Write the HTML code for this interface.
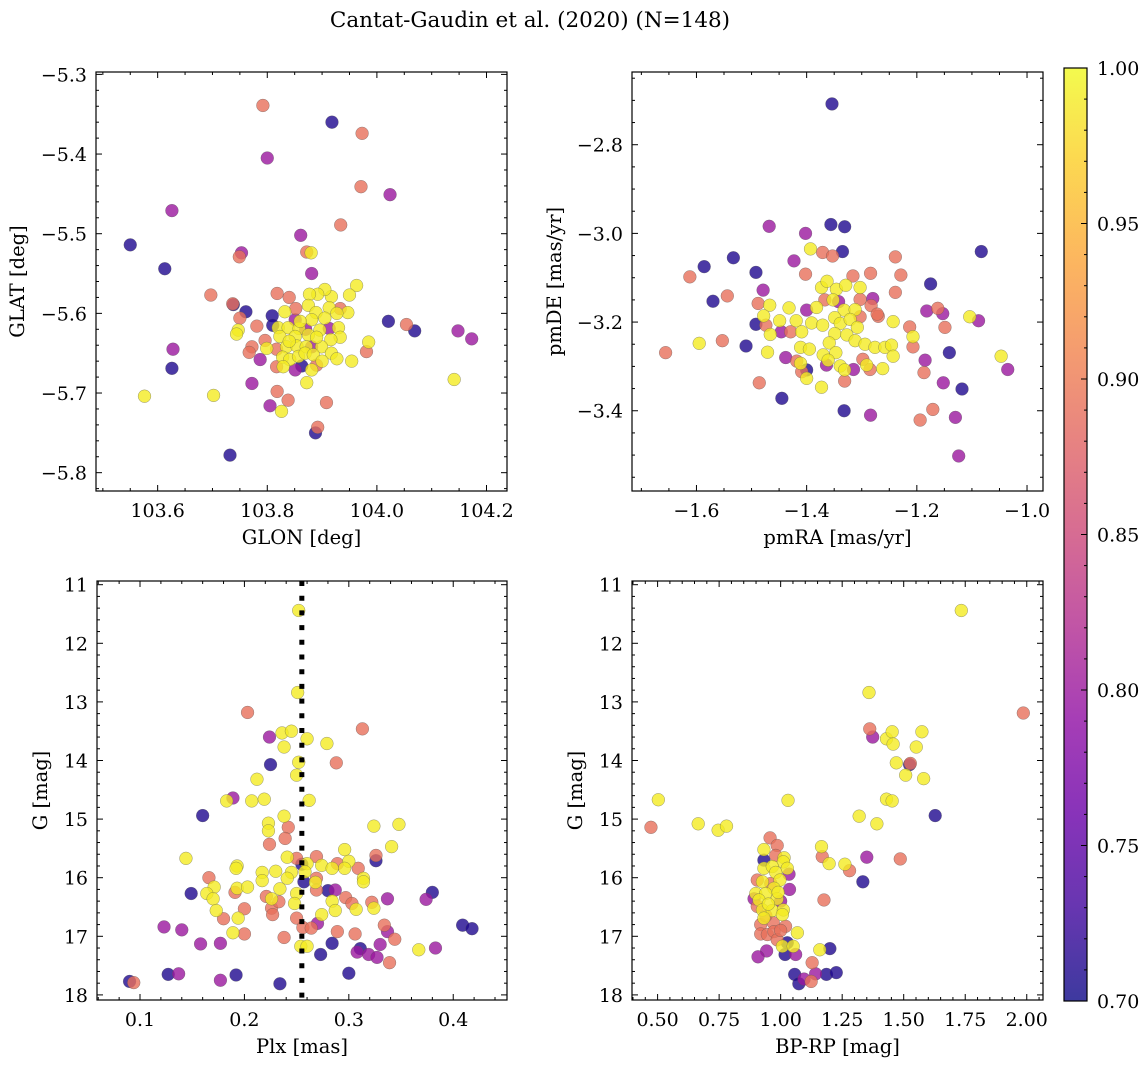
<!DOCTYPE html>
<html><head><meta charset="utf-8"><style>
html,body{margin:0;padding:0;background:#fff;}
svg{display:block;font-family:"DejaVu Serif","Liberation Serif",serif;}
</style></head><body>
<svg id="fig" width="1148" height="1068" viewBox="0 0 1148 1068" xmlns="http://www.w3.org/2000/svg">
<defs>
<linearGradient id="plasmaGrad" x1="0" y1="1" x2="0" y2="0">
<stop offset="0" stop-color="#0d0887"/><stop offset="0.1" stop-color="#41049d"/><stop offset="0.2" stop-color="#6a00a8"/><stop offset="0.3" stop-color="#8f0da4"/><stop offset="0.4" stop-color="#b12a90"/><stop offset="0.5" stop-color="#cc4778"/><stop offset="0.6" stop-color="#e16462"/><stop offset="0.7" stop-color="#f2844b"/><stop offset="0.8" stop-color="#fca636"/><stop offset="0.9" stop-color="#fcce25"/><stop offset="1" stop-color="#f0f921"/>
</linearGradient>
</defs>
<text x="530" y="27" font-size="21.5" text-anchor="middle">Cantat-Gaudin et al. (2020) (N=148)</text>
</svg>
<script>
// ---------- Panel 1: GLON vs GLAT ----------
const glon = [103.934,103.861,103.753,103.749,103.872,103.880,103.881,103.697,103.737,103.738,103.761,103.750,103.747,103.744,103.781,103.809,103.810,103.818,103.840,103.852,103.796,103.799,103.772,103.767,103.787,103.817,103.772,103.818,103.838,103.805,103.826,103.702,103.908,103.981,103.985,103.954,104.021,103.963,103.950,103.917,103.905,103.892,103.877,103.875,103.913,103.933,103.947,103.927,103.832,103.851,103.889,103.905,103.820,103.838,103.858,103.881,103.896,103.913,103.930,103.823,103.851,103.875,103.933,103.916,103.835,103.854,103.881,103.871,103.899,103.828,103.841,103.857,103.869,103.884,103.917,103.927,103.817,103.829,103.851,103.863,103.881,103.890,103.872,103.792,103.918,103.973,103.800,103.971,104.024,103.626,103.550,103.613,104.069,104.148,104.173,104.141,103.628,103.626,103.576,103.732,103.888,103.892,104.054,103.860,103.890,103.840,103.900,103.870];
const glat = [-5.489,-5.502,-5.524,-5.529,-5.523,-5.524,-5.550,-5.577,-5.588,-5.589,-5.598,-5.606,-5.621,-5.626,-5.616,-5.603,-5.615,-5.575,-5.580,-5.594,-5.634,-5.644,-5.642,-5.649,-5.658,-5.645,-5.688,-5.698,-5.709,-5.716,-5.723,-5.703,-5.712,-5.648,-5.636,-5.660,-5.610,-5.565,-5.577,-5.579,-5.570,-5.576,-5.576,-5.590,-5.593,-5.594,-5.599,-5.600,-5.598,-5.608,-5.599,-5.606,-5.618,-5.618,-5.619,-5.608,-5.621,-5.619,-5.618,-5.629,-5.629,-5.627,-5.630,-5.633,-5.642,-5.641,-5.642,-5.642,-5.642,-5.655,-5.658,-5.654,-5.650,-5.652,-5.650,-5.657,-5.667,-5.667,-5.671,-5.666,-5.671,-5.665,-5.687,-5.339,-5.360,-5.374,-5.405,-5.441,-5.451,-5.471,-5.514,-5.544,-5.622,-5.622,-5.632,-5.683,-5.645,-5.669,-5.704,-5.778,-5.750,-5.743,-5.614,-5.610,-5.630,-5.635,-5.660,-5.620];
const prob1 = [0.89,0.80,0.80,0.89,0.89,0.99,0.80,0.89,0.89,0.71,0.71,0.89,0.99,0.99,0.89,0.71,0.71,0.89,0.89,0.89,0.89,0.99,0.89,0.89,0.80,0.89,0.80,0.89,0.89,0.80,0.99,0.99,0.89,0.89,0.99,0.99,0.71,0.99,0.99,0.99,0.99,0.99,0.99,0.99,0.99,0.89,0.99,0.99,0.99,0.80,0.99,0.99,0.99,0.99,0.99,0.99,0.99,0.80,0.99,0.99,0.99,0.99,0.99,0.99,0.99,0.99,0.80,0.99,0.99,0.99,0.99,0.99,0.99,0.99,0.99,0.99,0.89,0.99,0.80,0.71,0.99,0.89,0.99,0.89,0.71,0.89,0.80,0.89,0.80,0.80,0.71,0.71,0.71,0.80,0.80,0.99,0.80,0.71,0.99,0.71,0.71,0.89,0.89,0.99,0.99,0.99,0.99,0.80];

// ---------- Panel 2: pmRA vs pmDE ----------
const pmra = [-1.656,-1.612,-1.586,-1.533,-1.570,-1.544,-1.595,-1.553,-1.510,-1.492,-1.468,-1.402,-1.356,-1.331,-1.393,-1.371,-1.353,-1.335,-1.423,-1.402,-1.479,-1.488,-1.492,-1.474,-1.467,-1.478,-1.466,-1.446,-1.429,-1.432,-1.449,-1.419,-1.409,-1.400,-1.382,-1.391,-1.373,-1.363,-1.346,-1.329,-1.367,-1.352,-1.342,-1.316,-1.303,-1.284,-1.332,-1.312,-1.303,-1.303,-1.280,-1.283,-1.270,-1.371,-1.349,-1.339,-1.321,-1.308,-1.349,-1.327,-1.359,-1.312,-1.294,-1.276,-1.258,-1.246,-1.243,-1.243,-1.411,-1.395,-1.370,-1.347,-1.361,-1.418,-1.438,-1.471,-1.411,-1.400,-1.409,-1.400,-1.373,-1.364,-1.339,-1.331,-1.331,-1.315,-1.298,-1.291,-1.285,-1.262,-1.272,-1.239,-1.229,-1.239,-1.175,-1.213,-1.207,-1.207,-1.182,-1.162,-1.153,-1.149,-1.185,-1.187,-1.141,-1.152,-1.118,-1.104,-1.088,-1.083,-1.047,-1.035,-1.486,-1.445,-1.332,-1.284,-1.194,-1.171,-1.130,-1.124,-1.354];
const pmde = [-3.269,-3.098,-3.075,-3.055,-3.153,-3.141,-3.248,-3.242,-3.254,-3.088,-2.984,-3.000,-2.980,-2.985,-3.035,-3.043,-3.051,-3.041,-3.062,-3.092,-3.128,-3.158,-3.205,-3.207,-3.162,-3.186,-3.228,-3.222,-3.222,-3.168,-3.197,-3.197,-3.222,-3.173,-3.167,-3.202,-3.122,-3.108,-3.126,-3.117,-3.150,-3.150,-3.154,-3.096,-3.122,-3.090,-3.173,-3.172,-3.188,-3.149,-3.147,-3.163,-3.187,-3.207,-3.190,-3.203,-3.194,-3.212,-3.226,-3.229,-3.247,-3.242,-3.250,-3.257,-3.257,-3.252,-3.199,-3.277,-3.257,-3.261,-3.274,-3.269,-3.286,-3.288,-3.280,-3.268,-3.293,-3.308,-3.312,-3.327,-3.347,-3.297,-3.299,-3.308,-3.333,-3.307,-3.284,-3.297,-3.307,-3.305,-3.182,-3.053,-3.094,-3.133,-3.114,-3.211,-3.233,-3.256,-3.175,-3.169,-3.181,-3.212,-3.286,-3.314,-3.269,-3.337,-3.351,-3.188,-3.197,-3.041,-3.277,-3.307,-3.337,-3.372,-3.400,-3.410,-3.421,-3.397,-3.415,-3.502,-2.708];
const prob2 = [0.89,0.89,0.71,0.71,0.71,0.89,0.99,0.89,0.71,0.71,0.80,0.80,0.71,0.71,0.99,0.89,0.89,0.71,0.80,0.89,0.80,0.89,0.71,0.89,0.99,0.99,0.99,0.80,0.89,0.99,0.99,0.99,0.99,0.80,0.99,0.99,0.99,0.99,0.99,0.99,0.89,0.99,0.80,0.89,0.99,0.89,0.99,0.99,0.89,0.89,0.80,0.89,0.89,0.99,0.99,0.99,0.99,0.99,0.99,0.99,0.99,0.99,0.99,0.99,0.99,0.99,0.99,0.99,0.99,0.99,0.99,0.99,0.99,0.89,0.80,0.99,0.99,0.71,0.89,0.99,0.99,0.80,0.99,0.99,0.89,0.80,0.89,0.99,0.89,0.99,0.89,0.89,0.89,0.89,0.71,0.89,0.99,0.89,0.80,0.89,0.80,0.89,0.80,0.89,0.71,0.80,0.71,0.99,0.80,0.71,0.99,0.80,0.89,0.71,0.71,0.80,0.89,0.89,0.80,0.80,0.71];

// ---------- Panel 3: Plx vs G ----------
const plx = [0.252,0.251,0.203,0.313,0.224,0.236,0.245,0.260,0.279,0.238,0.225,0.252,0.250,0.288,0.212,0.189,0.183,0.207,0.219,0.262,0.160,0.238,0.223,0.223,0.242,0.239,0.224,0.324,0.348,0.341,0.296,0.144,0.241,0.250,0.269,0.326,0.326,0.300,0.193,0.192,0.255,0.260,0.274,0.289,0.284,0.296,0.309,0.230,0.245,0.258,0.217,0.166,0.217,0.241,0.257,0.269,0.268,0.314,0.314,0.171,0.193,0.203,0.234,0.149,0.164,0.191,0.269,0.280,0.287,0.170,0.221,0.226,0.250,0.248,0.284,0.297,0.303,0.322,0.337,0.374,0.380,0.173,0.200,0.226,0.233,0.287,0.307,0.324,0.180,0.194,0.227,0.250,0.274,0.123,0.140,0.189,0.200,0.256,0.264,0.270,0.289,0.306,0.334,0.337,0.344,0.409,0.418,0.158,0.177,0.238,0.254,0.260,0.284,0.273,0.311,0.308,0.319,0.327,0.330,0.339,0.367,0.383,0.090,0.094,0.127,0.137,0.177,0.192,0.234,0.300];
const gmag3 = [11.44,12.84,13.18,13.46,13.60,13.53,13.50,13.63,13.71,13.77,14.07,14.03,14.25,14.04,14.32,14.64,14.69,14.69,14.66,14.68,14.94,14.95,15.07,15.20,15.14,15.33,15.43,15.12,15.09,15.47,15.52,15.67,15.65,15.67,15.64,15.62,15.71,15.72,15.80,15.84,15.77,15.76,15.79,15.76,15.84,15.84,15.84,15.89,15.91,15.90,15.91,16.00,16.05,16.01,16.07,16.01,16.08,16.01,16.07,16.16,16.18,16.16,16.19,16.27,16.27,16.25,16.21,16.22,16.21,16.36,16.32,16.36,16.27,16.44,16.40,16.34,16.44,16.42,16.36,16.37,16.25,16.56,16.53,16.52,16.41,16.56,16.54,16.52,16.70,16.69,16.63,16.69,16.63,16.84,16.89,16.94,16.96,16.85,16.86,16.78,16.92,16.96,16.81,16.92,17.05,16.81,16.87,17.13,17.12,17.02,17.17,17.17,17.12,17.31,17.21,17.27,17.31,17.36,17.14,17.45,17.23,17.20,17.77,17.79,17.65,17.64,17.75,17.66,17.81,17.63];
const prob3 = [0.99,0.99,0.89,0.89,0.80,0.99,0.99,0.99,0.99,0.99,0.71,0.99,0.99,0.89,0.99,0.80,0.99,0.99,0.99,0.99,0.71,0.99,0.99,0.99,0.89,0.89,0.89,0.99,0.99,0.99,0.99,0.99,0.99,0.89,0.89,0.89,0.71,0.99,0.99,0.99,0.71,0.99,0.99,0.89,0.99,0.99,0.89,0.99,0.99,0.99,0.99,0.89,0.99,0.99,0.71,0.89,0.99,0.99,0.99,0.99,0.99,0.99,0.99,0.71,0.99,0.89,0.89,0.71,0.80,0.99,0.89,0.99,0.99,0.99,0.99,0.89,0.89,0.89,0.80,0.80,0.71,0.99,0.89,0.89,0.89,0.99,0.99,0.99,0.89,0.99,0.89,0.89,0.99,0.80,0.80,0.99,0.89,0.89,0.89,0.80,0.89,0.89,0.89,0.80,0.89,0.71,0.71,0.80,0.80,0.89,0.99,0.99,0.71,0.71,0.71,0.80,0.80,0.80,0.80,0.89,0.99,0.80,0.71,0.89,0.71,0.80,0.80,0.71,0.71,0.71];

// ---------- Panel 4: BP-RP vs G ----------
const bprp = [1.734,1.359,1.986,1.362,1.374,1.430,1.453,1.457,1.574,1.551,1.470,1.527,1.524,1.508,1.581,0.503,1.030,1.430,1.453,0.473,0.665,0.746,0.780,1.319,1.391,1.628,0.957,0.986,0.932,1.166,1.169,1.197,1.261,1.280,1.350,1.486,1.334,0.932,0.980,1.014,1.011,0.932,0.966,1.027,0.980,1.034,0.997,0.926,0.905,0.973,1.036,0.899,0.939,0.892,0.912,0.986,1.000,0.905,0.926,0.966,1.011,0.932,1.007,0.919,0.970,1.020,0.919,0.946,0.973,1.068,0.986,1.027,1.007,1.051,1.018,1.061,0.943,0.908,1.159,1.200,1.176,1.128,1.057,1.095,1.074,1.124,1.142,1.186,1.226,0.950,0.990,0.960,0.940,1.000];
const gmag4 = [11.44,12.84,13.19,13.46,13.60,13.63,13.51,13.72,13.51,13.77,14.04,14.05,14.07,14.25,14.31,14.67,14.68,14.66,14.69,15.14,15.08,15.19,15.12,14.95,15.08,14.94,15.32,15.45,15.52,15.47,15.64,15.76,15.77,15.88,15.65,15.68,16.07,15.70,15.62,15.66,15.73,15.84,15.81,15.84,15.91,15.94,16.04,16.07,16.04,16.18,16.20,16.27,16.27,16.36,16.38,16.36,16.40,16.49,16.55,16.56,16.55,16.69,16.63,16.80,16.77,16.83,16.96,16.97,16.92,16.94,17.06,17.11,17.17,17.17,17.31,17.31,17.25,17.35,17.23,17.21,16.38,17.45,17.65,17.73,17.81,17.77,17.64,17.65,17.62,16.45,16.25,16.10,16.65,16.90];
const prob4 = [0.99,0.99,0.89,0.89,0.80,0.99,0.99,0.99,0.99,0.99,0.99,0.89,0.71,0.99,0.99,0.99,0.99,0.99,0.99,0.89,0.99,0.99,0.99,0.99,0.99,0.71,0.89,0.89,0.99,0.99,0.89,0.99,0.99,0.89,0.80,0.89,0.71,0.71,0.89,0.99,0.99,0.99,0.99,0.99,0.99,0.80,0.99,0.99,0.89,0.99,0.80,0.99,0.99,0.80,0.99,0.99,0.80,0.89,0.99,0.99,0.99,0.99,0.99,0.89,0.89,0.89,0.89,0.89,0.89,0.99,0.89,0.71,0.99,0.99,0.71,0.80,0.80,0.80,0.99,0.71,0.89,0.89,0.71,0.80,0.71,0.89,0.80,0.71,0.71,0.99,0.99,0.89,0.89,0.89];

// ---------- Colorbar ticks ----------
const cbTicks = [0.70,0.75,0.80,0.85,0.90,0.95,1.00];
const cbTickLabels = ["0.70","0.75","0.80","0.85","0.90","0.95","1.00"];
const cbRange = [0.70, 1.00];
const plxLine = 0.255;

const NS = "http://www.w3.org/2000/svg";
const svg = document.getElementById("fig");
const TICK_FS = 19, LABEL_FS = 19.5;
const plasmaStops = ["#0d0887","#41049d","#6a00a8","#8f0da4","#b12a90","#cc4778","#e16462","#f2844b","#fca636","#fcce25","#f0f921"];
function hex(h){return [parseInt(h.substr(1,2),16),parseInt(h.substr(3,2),16),parseInt(h.substr(5,2),16)];}
function plasma(p){
  let t=(p-cbRange[0])/(cbRange[1]-cbRange[0]); t=Math.max(0,Math.min(1,t));
  const f=t*10, i=Math.min(9,Math.floor(f)), u=f-i;
  const a=hex(plasmaStops[i]), b=hex(plasmaStops[i+1]);
  return "rgb("+a.map((v,k)=>Math.round(v+(b[k]-v)*u)).join(",")+")";
}
function mk(tag, attrs, parent){
  const e=document.createElementNS(NS,tag);
  for(const k in attrs) e.setAttribute(k,attrs[k]);
  (parent||svg).appendChild(e); return e;
}
function fmt(v,d){const s=v.toFixed(d); return v<0? "\u2212"+s.substring(1): s;}

function panel(name, box, xd, yd, xs, ys, ps, xMaj, xMinStep, xDec, yMaj, yMinStep, yDec, xLabel, yLabel, yLabelX){
  const g=mk("g",{});
  
  
  const sx=v=>box.l+(v-xd[0])/(xd[1]-xd[0])*(box.r-box.l);
  const sy=v=>box.t+(v-yd[0])/(yd[1]-yd[0])*(box.b-box.t);
  const cp="clip-"+name;
  const cl=mk("clipPath",{id:cp},g);
  mk("rect",{x:box.l,y:box.t,width:box.r-box.l,height:box.b-box.t},cl);
  const pts=mk("g",{"clip-path":"url(#"+cp+")"},g);
  
  
  const idx=xs.map((_,i)=>i).sort((a,b)=>ps[a]-ps[b]);
  idx.forEach(i=>{
    const c=mk("circle",{cx:sx(xs[i]).toFixed(2),cy:sy(ys[i]).toFixed(2),r:6.4,fill:plasma(ps[i]),"fill-opacity":0.8,stroke:"#555","stroke-width":0.5,"stroke-opacity":0.6},pts);
    
    
  });
  if(name==="plx-g-panel"){
    const ln=mk("line",{x1:sx(plxLine),x2:sx(plxLine),y1:box.t,y2:box.b,stroke:"#000","stroke-width":5,"stroke-dasharray":"5 9.7"},g);
    
    
  }
  const tk=mk("g",{stroke:"#000","stroke-width":1},g);
  const xmin=Math.min(xd[0],xd[1]), xmax=Math.max(xd[0],xd[1]);
  const ymin=Math.min(yd[0],yd[1]), ymax=Math.max(yd[0],yd[1]);
  const isMaj=(v,arr)=>arr.some(m=>Math.abs(m-v)<1e-6);
  for(let k=Math.ceil(xmin/xMinStep-1e-9);k*xMinStep<=xmax+1e-9;k++){
    const v=k*xMinStep, x=sx(v), L=isMaj(v,xMaj)?6:3;
    mk("line",{x1:x,x2:x,y1:box.b,y2:box.b-L},tk); mk("line",{x1:x,x2:x,y1:box.t,y2:box.t+L},tk);
  }
  for(let k=Math.ceil(ymin/yMinStep-1e-9);k*yMinStep<=ymax+1e-9;k++){
    const v=k*yMinStep, y=sy(v), L=isMaj(v,yMaj)?6:3;
    mk("line",{x1:box.l,x2:box.l+L,y1:y,y2:y},tk); mk("line",{x1:box.r,x2:box.r-L,y1:y,y2:y},tk);
  }
  const fr=mk("rect",{x:box.l,y:box.t,width:box.r-box.l,height:box.b-box.t,fill:"none",stroke:"#000","stroke-width":1.2},g);
  
  
  xMaj.forEach(v=>{
    const t=mk("text",{x:sx(v),y:box.b+26,"font-size":TICK_FS,"text-anchor":"middle"},g);
    t.textContent=fmt(v,xDec);
    
    
  });
  yMaj.forEach(v=>{
    const t=mk("text",{x:box.l-9,y:sy(v)+7,"font-size":TICK_FS,"text-anchor":"end"},g);
    t.textContent=fmt(v,yDec);
    
    
  });
  const xl=mk("text",{x:(box.l+box.r)/2,y:box.b+53,"font-size":LABEL_FS,"text-anchor":"middle"},g);
  xl.textContent=xLabel;
  
  
  const cy=(box.t+box.b)/2;
  const yl=mk("text",{x:yLabelX,y:cy,"font-size":LABEL_FS,"text-anchor":"middle",transform:"rotate(-90 "+yLabelX+" "+cy+")"},g);
  yl.textContent=yLabel;
  
  
}

panel("glon-glat-panel",{l:96,r:507,t:72,b:491},[103.4875,104.2374],[-5.297,-5.823],glon,glat,prob1,
  [103.6,103.8,104.0,104.2],0.05,1,[-5.3,-5.4,-5.5,-5.6,-5.7,-5.8],0.02,1,"GLON [deg]","GLAT [deg]",24);
panel("pm-panel",{l:632,r:1043,t:72,b:491},[-1.717,-0.971],[-2.636,-3.581],pmra,pmde,prob2,
  [-1.6,-1.4,-1.2,-1.0],0.05,1,[-2.8,-3.0,-3.2,-3.4],0.05,1,"pmRA [mas/yr]","pmDE [mas/yr]",561);
panel("plx-g-panel",{l:97,r:507,t:581,b:1000},[0.0588,0.4515],[10.937,18.087],plx,gmag3,prob3,
  [0.1,0.2,0.3,0.4],0.02,1,[11,12,13,14,15,16,17,18],0.2,0,"Plx [mas]","G [mag]",47);
panel("cmd-panel",{l:632,r:1043,t:581,b:1000},[0.396,2.066],[10.937,18.087],bprp,gmag4,prob4,
  [0.5,0.75,1.0,1.25,1.5,1.75,2.0],0.05,2,[11,12,13,14,15,16,17,18],0.2,0,"BP-RP [mag]","G [mag]",582);

// colorbar
const cb={l:1064,r:1087,t:68,b:1001};
const cbg=mk("g",{});


const cbs=v=>cb.b-(v-cbRange[0])/(cbRange[1]-cbRange[0])*(cb.b-cb.t);
mk("rect",{x:cb.l,y:cb.t,width:cb.r-cb.l,height:cb.b-cb.t,fill:"url(#plasmaGrad)","fill-opacity":0.8},cbg);
mk("rect",{x:cb.l,y:cb.t,width:cb.r-cb.l,height:cb.b-cb.t,fill:"none",stroke:"#000","stroke-width":1.2},cbg);
for(let k=70;k<=100;k++){
  const v=k/100, y=cbs(v), L=(k%5===0)?6:3;
  mk("line",{x1:cb.r,x2:cb.r-L,y1:y,y2:y,stroke:"#000","stroke-width":1},cbg);
}
cbTicks.forEach((v,i)=>{
  const t=mk("text",{x:cb.r+10,y:cbs(v)+7,"font-size":TICK_FS},cbg);
  t.textContent=cbTickLabels[i];
  
  
});
</script>
</body></html>
